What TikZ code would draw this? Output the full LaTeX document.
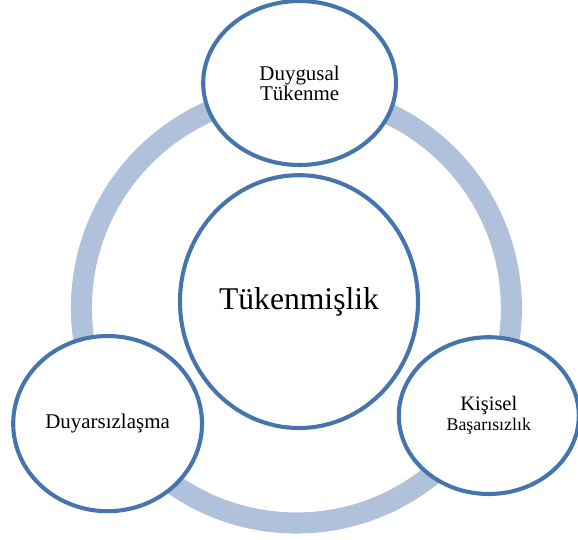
\documentclass[tikz,border=0pt]{standalone}
\usepackage{fontspec}
\setmainfont{Liberation Serif}
\usetikzlibrary{shapes.geometric}
\definecolor{ringblue}{RGB}{176,193,220}
\definecolor{rimblue}{RGB}{70,116,172}

\begin{document}
\begin{tikzpicture}[
  bubble/.style={ellipse, draw=rimblue, line width=2.9pt, fill=white, inner sep=0pt, align=center},
  small/.style={font=\fontsize{14.9}{14.2}\selectfont}
]
\useasboundingbox (0,0) rectangle (14.45,-13.5);

% the ring behind
\draw[ringblue, line width=15pt] (7.41,-7.7) circle (5.375);

\node (burnout) at (7.475,-7.54) [bubble, minimum width=5.95cm, minimum height=6.32cm,
  font=\fontsize{22.5}{27}\selectfont]{Tükenmişlik};

\node (emotional) at (7.49,-2.075) [bubble, small, minimum width=4.82cm, minimum height=4.1cm]{Duygusal\\Tükenme};
\node (depers) at (2.69,-10.59) [bubble, small, minimum width=4.72cm, minimum height=4.38cm]{Duyarsızlaşma};
\node (personal) at (12.22,-10.39) [bubble, minimum width=4.5cm, minimum height=3.92cm,
  font=\fontsize{14.6}{14.2}\selectfont]{Kişisel\\{\fontsize{12.7}{14.2}\selectfont Başarısızlık}};

\end{tikzpicture}
\end{document}
